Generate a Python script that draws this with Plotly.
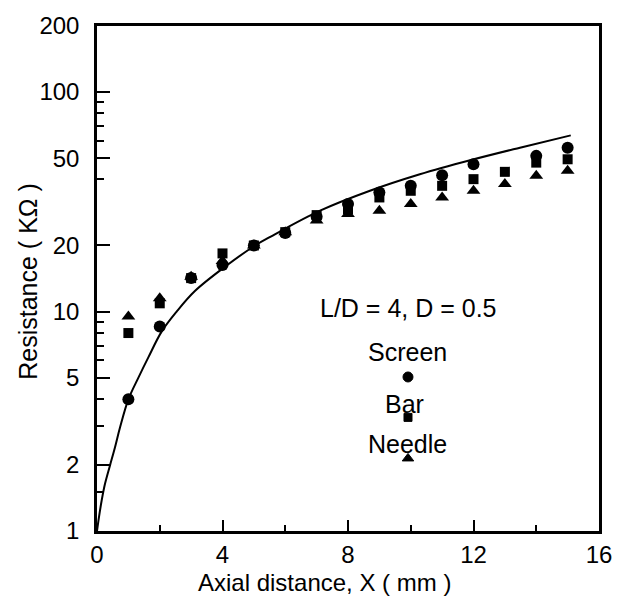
import plotly.graph_objects as go

# ---- data ----
x_pos = [1, 2, 3, 4, 5, 6, 7, 8, 9, 10, 11, 12, 13, 14, 15]
screen = [3.98, 8.55, 14.2, 16.3, 20.0, 22.8, 27.0, 30.9, 34.9, 37.4, 41.8, 46.9, None, 51.2, 55.8]
bar = [7.98, 10.9, 14.2, 18.4, 20.0, 23.0, 27.5, 29.3, 33.1, 35.5, 37.4, 40.1, 43.3, 47.7, 49.4]
needle = [9.5, 11.5, 14.4, 17.0, 20.0, 23.0, 26.0, 27.8, 28.8, 30.9, 33.1, 35.5, 38.1, 41.6, 43.8]

curve_x = [0, 0.064, 0.15, 0.255, 0.414, 0.574, 0.733, 1.0, 1.32, 1.64, 2.06, 2.54, 3.12,
           4.08, 5.04, 5.6, 7.11, 8.70, 10.29, 11.89, 13.48, 15.1]
curve_y = [1.0, 1.16, 1.38, 1.64, 1.99, 2.41, 2.96, 3.98, 5.0, 6.2, 8.1, 10.0, 12.4,
           16.0, 20.0, 22.2, 28.8, 35.5, 42.2, 48.9, 55.8, 63.5]

x_ticks = [0, 4, 8, 12, 16]
x_minor = [2, 6, 10, 14]
y_ticks = [1, 2, 5, 10, 20, 50, 100, 200]
y_minor = [1.5, 3, 4, 6, 7, 8, 9, 40, 60, 70, 80, 90]

legend_note = "L/D = 4, D = 0.5"
legend_names = ["Screen", "Bar", "Needle"]
legend_symbols = ["circle", "square", "triangle-up"]

FONT = "Liberation Sans, Arial, Helvetica, sans-serif"

fig = go.Figure()

fig.add_trace(go.Scatter(x=curve_x, y=curve_y, mode="lines",
                         line=dict(color="black", width=2, shape="spline", smoothing=1.0),
                         showlegend=False, hoverinfo="skip"))
fig.add_trace(go.Scatter(x=x_pos, y=needle, mode="markers", name="Needle",
                         marker=dict(symbol="triangle-up", size=12, color="black"),
                         showlegend=False))
fig.add_trace(go.Scatter(x=x_pos, y=bar, mode="markers", name="Bar",
                         marker=dict(symbol="square", size=10, color="black"),
                         showlegend=False))
fig.add_trace(go.Scatter(x=x_pos, y=screen, mode="markers", name="Screen",
                         marker=dict(symbol="circle", size=12, color="black"),
                         showlegend=False))

# legend block (layout positions in an overlay 0..1 frame)
leg_x = 0.6195
text_y = [0.354, 0.252, 0.173]
text_x = [0.6195, 0.6135, 0.6195]
mark_y = [0.305, 0.225, 0.1437]
mark_size = [10, 8, 10]
fig.add_trace(go.Scatter(x=[leg_x] * 3, y=mark_y, mode="markers", opacity=1,
                         marker=dict(symbol=legend_symbols, size=mark_size, color="black",
                                     opacity=1, line=dict(color="black", width=1)),
                         xaxis="x2", yaxis="y2", showlegend=False, hoverinfo="skip"))

annotations = [
    dict(text=legend_note, x=0.6215, y=0.441, xref="paper", yref="paper",
         showarrow=False, font=dict(size=25, color="black", family=FONT),
         xanchor="center", yanchor="middle"),
]
for name, tx, ty in zip(legend_names, text_x, text_y):
    annotations.append(dict(text=name, x=tx, y=ty, xref="paper", yref="paper",
                            showarrow=False, font=dict(size=25, color="black", family=FONT),
                            xanchor="center", yanchor="middle"))
annotations.append(dict(text="Axial distance, X ( mm )", x=0.454, y=-0.102,
                        xref="paper", yref="paper", showarrow=False,
                        font=dict(size=24, color="black", family=FONT),
                        xanchor="center", yanchor="middle"))
annotations.append(dict(text="Resistance ( KΩ )", x=-0.139, y=0.494,
                        xref="paper", yref="paper", showarrow=False, textangle=-90,
                        font=dict(size=25, color="black", family=FONT),
                        xanchor="center", yanchor="middle"))

fig.update_layout(
    width=634, height=596,
    margin=dict(l=97, r=35, t=23, b=65),
    paper_bgcolor="white", plot_bgcolor="white",
    font=dict(family=FONT, color="black"),
    showlegend=False,
    annotations=annotations,
    xaxis=dict(range=[0, 16], tickvals=x_ticks, ticktext=[str(v) for v in x_ticks],
               ticks="inside", ticklen=11, tickwidth=2, tickcolor="black",
               showline=True, linecolor="black", linewidth=2.5, mirror=True,
               showgrid=False, zeroline=False,
               tickfont=dict(size=24, color="black", family=FONT),
               ticklabelstandoff=0,
               minor=dict(tickvals=x_minor, ticks="inside", ticklen=6,
                          tickwidth=2, tickcolor="black", showgrid=False)),
    yaxis=dict(type="log", range=[0, 2.30103], tickvals=y_ticks,
               ticktext=[str(v) for v in y_ticks],
               ticks="inside", ticklen=13, tickwidth=2, tickcolor="black",
               showline=True, linecolor="black", linewidth=2.5, mirror=True,
               showgrid=False, zeroline=False,
               tickfont=dict(size=24, color="black", family=FONT),
               ticklabelstandoff=10,
               minor=dict(tickvals=y_minor, ticks="inside", ticklen=7,
                          tickwidth=2, tickcolor="black", showgrid=False)),
    xaxis2=dict(range=[0, 1], overlaying="x", visible=False),
    yaxis2=dict(range=[0, 1], overlaying="y", visible=False),
)

fig.write_html("out.html", config={"displayModeBar": False},
               post_script="document.body.style.margin='0px';")
